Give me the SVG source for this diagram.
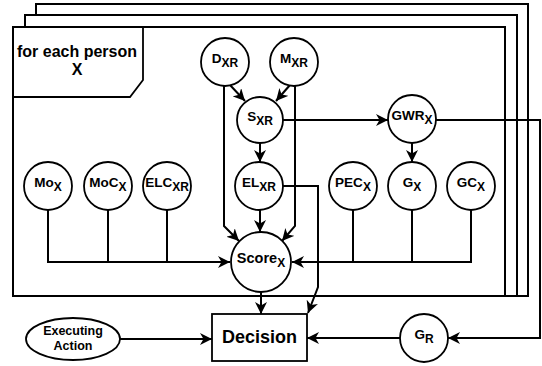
<svg xmlns="http://www.w3.org/2000/svg" width="542" height="366" viewBox="0 0 542 366">
<style>
.plate{fill:#fff;stroke:#000;stroke-width:2}
.node{fill:#fff;stroke:#000;stroke-width:1.8}
.lbl{font-family:"Liberation Sans",Arial,sans-serif;font-weight:bold;font-size:13.5px;fill:#000;text-anchor:middle}
.sub{font-size:12px}
.edge{fill:none;stroke:#000;stroke-width:2}
.arr{marker-end:url(#ah)}
</style>
<defs>
<marker id="ah" markerUnits="userSpaceOnUse" markerWidth="13" markerHeight="12" refX="12" refY="6" orient="auto">
<path d="M0,0 L12,6 L0,12 L3.5,6 z" fill="#000"/>
</marker>
</defs>
<g id="plates">
<rect class="plate" x="36" y="4" width="492" height="292"/>
<rect class="plate" x="25" y="15" width="492" height="281"/>
<rect class="plate" x="13" y="27" width="492" height="269"/>
<path d="M13,97 L130,97 L143,80 L143,27" fill="none" stroke="#000" stroke-width="1.8"/>
<text class="lbl" x="77" y="57" style="font-size:16px">for each person</text>
<text class="lbl" x="77" y="75" style="font-size:16px">X</text>
</g>
<g id="connectors">
<path class="edge arr" d="M230,85 L245,101"/>
<path class="edge arr" d="M290,85 L276,101"/>
<path class="edge arr" d="M224,86 L224,226 L239,241"/>
<path class="edge arr" d="M295,86 L295,226 L282,241"/>
<path class="edge arr" d="M260,143 L260,162"/>
<path class="edge arr" d="M260,210 L260,232"/>
<path class="edge arr" d="M283,120 L388,120"/>
<path class="edge arr" d="M412,143 L412,162"/>
<path class="edge arr" d="M436,120 L540,120 L540,338 L448,338"/>
<path class="edge arr" d="M400,338 L307,338"/>
<path class="edge arr" d="M120,339 L212,339"/>
<path class="edge arr" d="M261,292 L261,314"/>
<path class="edge arr" d="M283,186 L318,186 L318,287 L308,313"/>
<path class="edge arr" d="M48,210 L48,262 L230,262"/>
<path class="edge" d="M108,210 L108,262"/>
<path class="edge" d="M167,210 L167,262"/>
<path class="edge arr" d="M471,210 L471,262 L292,262"/>
<path class="edge" d="M353,210 L353,262"/>
<path class="edge" d="M412,210 L412,262"/>
</g>
<g id="D_XR"><circle class="node" cx="225" cy="62" r="24"/><text class="lbl" x="225" y="63">D<tspan class="sub" dy="4">XR</tspan></text></g>
<g id="M_XR"><circle class="node" cx="294" cy="62" r="24"/><text class="lbl" x="294" y="63">M<tspan class="sub" dy="4">XR</tspan></text></g>
<g id="S_XR"><circle class="node" cx="260" cy="120" r="23"/><text class="lbl" x="260" y="121">S<tspan class="sub" dy="4">XR</tspan></text></g>
<g id="GWR_X"><circle class="node" cx="412" cy="119" r="24"/><text class="lbl" x="412" y="120">GWR<tspan class="sub" dy="4">X</tspan></text></g>
<g id="EL_XR"><circle class="node" cx="259" cy="186" r="24"/><text class="lbl" x="259" y="187">EL<tspan class="sub" dy="4">XR</tspan></text></g>
<g id="Mo_X"><circle class="node" cx="48" cy="186" r="24"/><text class="lbl" x="48" y="187">Mo<tspan class="sub" dy="4">X</tspan></text></g>
<g id="MoC_X"><circle class="node" cx="108" cy="186" r="24"/><text class="lbl" x="108" y="187">MoC<tspan class="sub" dy="4">X</tspan></text></g>
<g id="ELC_XR"><circle class="node" cx="167" cy="186" r="24"/><text class="lbl" x="167" y="187">ELC<tspan class="sub" dy="4">XR</tspan></text></g>
<g id="PEC_X"><circle class="node" cx="353" cy="186" r="24"/><text class="lbl" x="353" y="187">PEC<tspan class="sub" dy="4">X</tspan></text></g>
<g id="G_X"><circle class="node" cx="412" cy="186" r="24"/><text class="lbl" x="412" y="187">G<tspan class="sub" dy="4">X</tspan></text></g>
<g id="GC_X"><circle class="node" cx="471" cy="186" r="24"/><text class="lbl" x="471" y="187">GC<tspan class="sub" dy="4">X</tspan></text></g>
<g id="Score_X"><circle class="node" cx="261" cy="262" r="30"/><text class="lbl" x="261" y="263" style="font-size:14.5px">Score<tspan class="sub" dy="4">X</tspan></text></g>
<g id="Decision"><rect class="node" x="212" y="314" width="95" height="47"/><text class="lbl" x="259.5" y="343" style="font-size:18px">Decision</text></g>
<g id="ExecutingAction"><ellipse class="node" cx="73" cy="339" rx="47" ry="21"/><text class="lbl" x="73" y="335" style="font-size:12.5px">Executing</text><text class="lbl" x="73" y="350" style="font-size:12.5px">Action</text></g>
<g id="G_R"><circle class="node" cx="424" cy="338" r="24"/><text class="lbl" x="424" y="339">G<tspan class="sub" dy="4">R</tspan></text></g>
</svg>
